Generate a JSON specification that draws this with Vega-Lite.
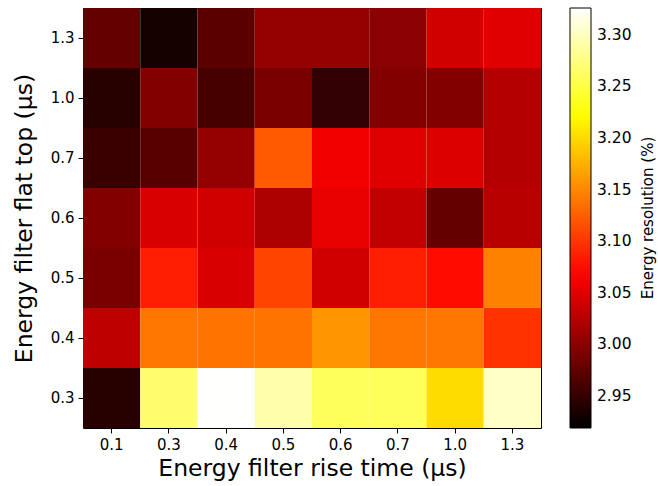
{
  "$schema": "https://vega.github.io/schema/vega-lite/v6.json",
  "autosize": "none",
  "padding": {"left": 83, "top": 8, "right": 117, "bottom": 58},
  "width": 458,
  "height": 420,
  "background": "white",
  "config": {
    "font": "DejaVu Sans",
    "view": {"stroke": "black", "strokeWidth": 1}
  },
  "data": {"values": [
    {"rise": "0.1", "flat": "1.3", "res": 2.978},
    {"rise": "0.3", "flat": "1.3", "res": 2.931},
    {"rise": "0.4", "flat": "1.3", "res": 2.972},
    {"rise": "0.5", "flat": "1.3", "res": 3.006},
    {"rise": "0.6", "flat": "1.3", "res": 3.006},
    {"rise": "0.7", "flat": "1.3", "res": 3.0},
    {"rise": "1.0", "flat": "1.3", "res": 3.041},
    {"rise": "1.3", "flat": "1.3", "res": 3.05},
    {"rise": "0.1", "flat": "1.0", "res": 2.942},
    {"rise": "0.3", "flat": "1.0", "res": 2.995},
    {"rise": "0.4", "flat": "1.0", "res": 2.96},
    {"rise": "0.5", "flat": "1.0", "res": 2.99},
    {"rise": "0.6", "flat": "1.0", "res": 2.948},
    {"rise": "0.7", "flat": "1.0", "res": 2.995},
    {"rise": "1.0", "flat": "1.0", "res": 2.995},
    {"rise": "1.3", "flat": "1.0", "res": 3.024},
    {"rise": "0.1", "flat": "0.7", "res": 2.953},
    {"rise": "0.3", "flat": "0.7", "res": 2.97},
    {"rise": "0.4", "flat": "0.7", "res": 3.006},
    {"rise": "0.5", "flat": "0.7", "res": 3.122},
    {"rise": "0.6", "flat": "0.7", "res": 3.06},
    {"rise": "0.7", "flat": "0.7", "res": 3.05},
    {"rise": "1.0", "flat": "0.7", "res": 3.048},
    {"rise": "1.3", "flat": "0.7", "res": 3.024},
    {"rise": "0.1", "flat": "0.6", "res": 2.995},
    {"rise": "0.3", "flat": "0.6", "res": 3.045},
    {"rise": "0.4", "flat": "0.6", "res": 3.04},
    {"rise": "0.5", "flat": "0.6", "res": 3.02},
    {"rise": "0.6", "flat": "0.6", "res": 3.055},
    {"rise": "0.7", "flat": "0.6", "res": 3.032},
    {"rise": "1.0", "flat": "0.6", "res": 2.978},
    {"rise": "1.3", "flat": "0.6", "res": 3.027},
    {"rise": "0.1", "flat": "0.5", "res": 2.99},
    {"rise": "0.3", "flat": "0.5", "res": 3.086},
    {"rise": "0.4", "flat": "0.5", "res": 3.045},
    {"rise": "0.5", "flat": "0.5", "res": 3.109},
    {"rise": "0.6", "flat": "0.5", "res": 3.04},
    {"rise": "0.7", "flat": "0.5", "res": 3.086},
    {"rise": "1.0", "flat": "0.5", "res": 3.075},
    {"rise": "1.3", "flat": "0.5", "res": 3.146},
    {"rise": "0.1", "flat": "0.4", "res": 3.03},
    {"rise": "0.3", "flat": "0.4", "res": 3.14},
    {"rise": "0.4", "flat": "0.4", "res": 3.138},
    {"rise": "0.5", "flat": "0.4", "res": 3.138},
    {"rise": "0.6", "flat": "0.4", "res": 3.159},
    {"rise": "0.7", "flat": "0.4", "res": 3.14},
    {"rise": "1.0", "flat": "0.4", "res": 3.14},
    {"rise": "1.3", "flat": "0.4", "res": 3.098},
    {"rise": "0.1", "flat": "0.3", "res": 2.942},
    {"rise": "0.3", "flat": "0.3", "res": 3.267},
    {"rise": "0.4", "flat": "0.3", "res": 3.325},
    {"rise": "0.5", "flat": "0.3", "res": 3.292},
    {"rise": "0.6", "flat": "0.3", "res": 3.259},
    {"rise": "0.7", "flat": "0.3", "res": 3.259},
    {"rise": "1.0", "flat": "0.3", "res": 3.201},
    {"rise": "1.3", "flat": "0.3", "res": 3.303}
  ]},
  "mark": {"type": "rect"},
  "encoding": {
    "x": {
      "field": "rise", "type": "ordinal",
      "sort": ["0.1", "0.3", "0.4", "0.5", "0.6", "0.7", "1.0", "1.3"],
      "scale": {"paddingInner": 0, "paddingOuter": 0},
      "axis": {
        "title": "Energy filter rise time (μs)",
        "titleFontSize": 23.5, "titleFontWeight": "normal", "titleColor": "black", "titlePadding": 4,
        "labelFontSize": 15, "labelColor": "black", "labelAngle": 0, "labelPadding": 4,
        "tickColor": "black", "tickSize": 5, "domain": false
      }
    },
    "y": {
      "field": "flat", "type": "ordinal",
      "sort": ["1.3", "1.0", "0.7", "0.6", "0.5", "0.4", "0.3"],
      "scale": {"paddingInner": 0, "paddingOuter": 0},
      "axis": {
        "title": "Energy filter flat top (μs)",
        "titleFontSize": 23.5, "titleFontWeight": "normal", "titleColor": "black", "titlePadding": 14,
        "labelFontSize": 15, "labelColor": "black", "labelPadding": 4,
        "tickColor": "black", "tickSize": 5, "domain": false
      }
    },
    "color": {
      "field": "res", "type": "quantitative",
      "scale": {
        "type": "linear",
        "domain": [2.919, 3.0676, 3.2225, 3.326],
        "range": ["#000000", "#ff0000", "#ffff00", "#ffffff"],
        "interpolate": "rgb",
        "clamp": true
      },
      "legend": {
        "title": "Energy resolution (%)",
        "titleOrient": "right",
        "titleFontSize": 15, "titleFontWeight": "normal", "titleColor": "black",
        "titleAnchor": "middle",
        "titlePadding": 24,
        "direction": "vertical",
        "gradientLength": 420,
        "gradientThickness": 21,
        "gradientStrokeColor": "black",
        "gradientStrokeWidth": 1,
        "values": [2.95, 3.0, 3.05, 3.1, 3.15, 3.2, 3.25, 3.3],
        "format": ".2f",
        "labelFontSize": 15.5, "labelColor": "black",
        "labelOffset": 6,
        "offset": 29,
        "padding": 0,
        "labelOverlap": false,
        "encode": {
          "title": {"update": {"angle": {"value": 270}}}
        }
      }
    }
  }
}
